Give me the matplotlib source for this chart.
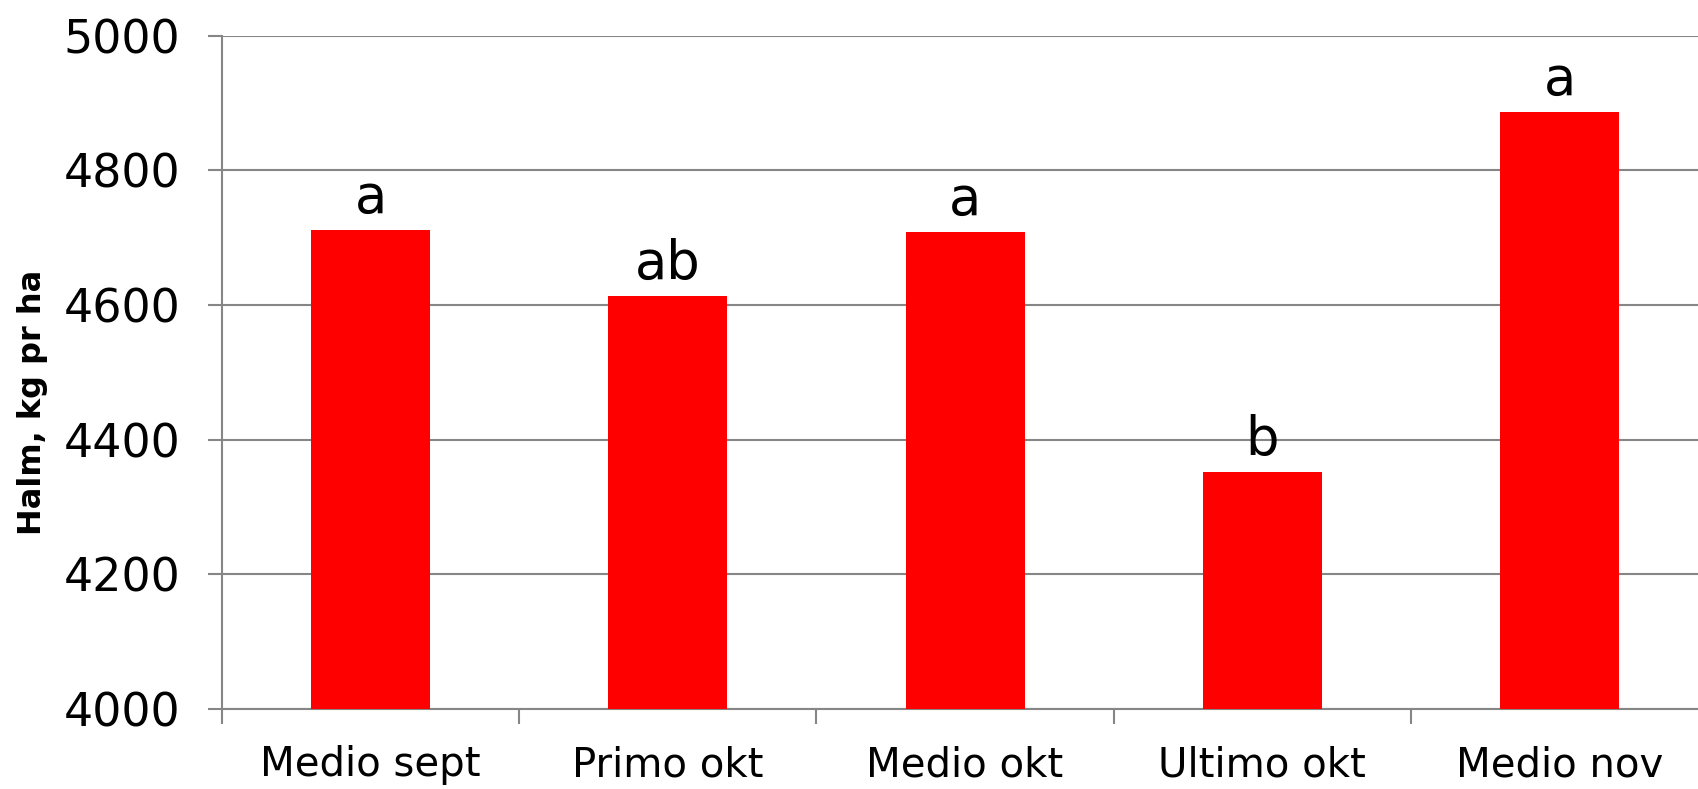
import numpy as np
import matplotlib
matplotlib.use('Agg')
from matplotlib import pyplot as plt
from matplotlib.ticker import FixedLocator

# data
periods = ['Medio sept', 'Primo okt', 'Medio okt', 'Ultimo okt', 'Medio nov']
halm    = [4712, 4614, 4709, 4352, 4887]
letters = ['a', 'ab', 'a', 'b', 'a']
yticks  = [4000, 4200, 4400, 4600, 4800, 5000]

plt.rcParams['font.family'] = ['DejaVu Sans']

fig = plt.figure(figsize=(16.98, 7.89), dpi=100)
ax = fig.add_axes([0.1307, 0.1014, 0.8753, 0.8534])

grey = '#868686'
x = np.arange(len(periods))

ax.bar(x, halm, width=0.4, color='#ff0000', zorder=3)

for xi, v, lab in zip(x, halm, letters):
    ax.annotate(lab, (xi, v), xytext=(0, 4), textcoords='offset points',
                ha='center', va='bottom', fontsize=38)

ax.set_xlim(-0.5, 4.5)
ax.set_ylim(4000, 5000)
ax.set_yticks(yticks)
ax.set_yticklabels([str(t) for t in yticks], fontsize=33)
ax.yaxis.grid(True, color=grey, lw=1.5, zorder=0)

ax.set_xticks(x)
ax.set_xticklabels(periods, fontsize=29)
ax.xaxis.set_minor_locator(FixedLocator(np.arange(-0.5, 4.6, 1.0)))
ax.tick_params(axis='x', which='major', length=0, pad=26)
ax.tick_params(axis='x', which='minor', length=11, width=1.5, color=grey)
ax.tick_params(axis='y', length=10, width=1.5, color=grey, pad=20)

for s in ['top', 'right']:
    ax.spines[s].set_visible(False)
for s in ['left', 'bottom']:
    ax.spines[s].set_color(grey)
    ax.spines[s].set_linewidth(1.5)

ax.set_ylabel('Halm, kg pr ha', fontsize=23, fontweight='heavy')
ax.yaxis.set_label_coords(-0.117, 0.456)

plt.savefig('out.png', dpi=100)
plt.close(fig)
